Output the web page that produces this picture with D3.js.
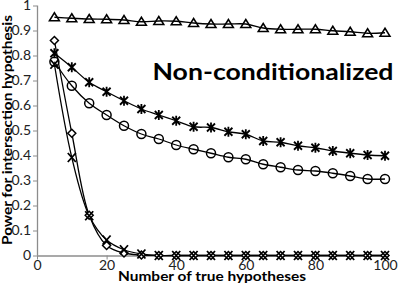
<!DOCTYPE html>
<html>
<head>
<meta charset="utf-8">
<script src="https://cdn.jsdelivr.net/npm/d3@7"></script>
<style>
  body { margin: 0; background: #fff; }
  text { font-family: Lato, "Open Sans", sans-serif; }
</style>
</head>
<body>
<div id="chart"></div>
<script>
// data
const trueHyp = [5, 10, 15, 20, 25, 30, 35, 40, 45, 50, 55, 60, 65, 70, 75, 80, 85, 90, 95, 100];
const triangleVals = [0.953, 0.949, 0.946, 0.945, 0.942, 0.935, 0.938, 0.937, 0.930, 0.926, 0.926, 0.926, 0.910, 0.905, 0.905, 0.905, 0.899, 0.895, 0.889, 0.891];
const starVals = [0.809, 0.753, 0.693, 0.655, 0.619, 0.586, 0.562, 0.539, 0.515, 0.512, 0.495, 0.485, 0.458, 0.453, 0.439, 0.431, 0.418, 0.409, 0.402, 0.399];
const circleVals = [0.775, 0.679, 0.609, 0.562, 0.519, 0.486, 0.466, 0.442, 0.425, 0.409, 0.393, 0.385, 0.365, 0.353, 0.342, 0.338, 0.329, 0.318, 0.306, 0.306];
const diamondVals = [0.860, 0.489, 0.161, 0.040, 0.010, 0.002, 0, 0, 0, 0, 0, 0, 0, 0, 0, 0, 0, 0, 0, 0];
const crossVals = [0.765, 0.392, 0.159, 0.062, 0.023, 0.006, 0, 0, 0, 0, 0, 0, 0, 0, 0, 0, 0, 0, 0, 0];

const xTicks = [0, 20, 40, 60, 80, 100];
const yTicks = [0, 0.1, 0.2, 0.3, 0.4, 0.5, 0.6, 0.7, 0.8, 0.9, 1];
const yTickLabels = ["0", "0.1", "0.2", "0.3", "0.4", "0.5", "0.6", "0.7", "0.8", "0.9", "1"];

const series = [
  {name: "triangle", values: triangleVals},
  {name: "star", values: starVals},
  {name: "circle", values: circleVals},
  {name: "diamond", values: diamondVals},
  {name: "cross", values: crossVals}
];

const W = 399, H = 286;
const margin = {top: 5.5, right: 14, bottom: 30.5, left: 37};

const svg = d3.select("#chart")
  .append("svg")
  .attr("width", W)
  .attr("height", H);

const x = d3.scaleLinear().domain([0, 100]).range([margin.left, W - margin.right]);
const y = d3.scaleLinear().domain([0, 1]).range([H - margin.bottom, margin.top]);

const axisColor = "#8c8c8c";

// y axis
const yAxis = svg.append("g")
  .attr("transform", `translate(${margin.left},0)`)
  .call(d3.axisLeft(y).tickValues(yTicks).tickSize(4).tickPadding(2)
    .tickFormat((d, i) => yTickLabels[i]));
// x axis
const xAxis = svg.append("g")
  .attr("transform", `translate(0,${y(0)})`)
  .call(d3.axisBottom(x).tickValues(xTicks).tickSize(4).tickPadding(1));

[xAxis, yAxis].forEach(g => {
  g.select(".domain").attr("stroke", axisColor).attr("stroke-width", 1.3);
  g.selectAll(".tick line").attr("stroke", axisColor);
  g.selectAll(".tick text")
    .attr("fill", "#222")
    .style("font-size", "14px")
    .style("font-family", "Lato, sans-serif");
});
// domain path has outer ticks, drop them
yAxis.select(".domain").attr("d", `M0.5,${y(1)}V${y(0)}`);
xAxis.select(".domain").attr("d", `M${margin.left},0.5H${x(100)}`);

// lines
const line = d3.line()
  .x((d, i) => x(trueHyp[i]))
  .y(d => y(d))
  .curve(d3.curveCatmullRom.alpha(0.5));

svg.append("g")
  .selectAll("path")
  .data(series)
  .join("path")
  .attr("d", d => line(d.values))
  .attr("fill", "none")
  .attr("stroke", "#000")
  .attr("stroke-width", 1.3);

// marker shapes
function markerPath(name) {
  switch (name) {
    case "triangle": return "M0,-4.5L5,3.5L-5,3.5Z";
    case "circle": return "M4.5,0A4.5,4.5,0,1,1,-4.5,0A4.5,4.5,0,1,1,4.5,0Z";
    case "diamond": return "M0,-4L4,0L0,4L-4,0Z";
    case "star": return "M-4,-4L4,4M-4,4L4,-4M0,-5V5";
    case "cross": return "M-4,-4.5L4,4.5M-4,4.5L4,-4.5";
  }
}

series.forEach(s => {
  svg.append("g")
    .selectAll("path")
    .data(s.values)
    .join("path")
    .attr("transform", (d, i) => `translate(${x(trueHyp[i])},${y(d)})`)
    .attr("d", markerPath(s.name))
    .attr("fill", s.name === "diamond" ? "#fff" : "none")
    .attr("stroke", "#000")
    .attr("stroke-width", s.name === "star" || s.name === "cross" ? 1.8 : 1.5);
});

// titles
svg.append("text")
  .attr("x", 152.5)
  .attr("y", 79.5)
  .attr("textLength", 241)
  .attr("lengthAdjust", "spacingAndGlyphs")
  .style("font-size", "23px")
  .style("font-weight", "bold")
  .text("Non-conditionalized");

svg.append("text")
  .attr("x", 212)
  .attr("y", 281)
  .attr("text-anchor", "middle")
  .attr("textLength", 188)
  .attr("lengthAdjust", "spacingAndGlyphs")
  .style("font-size", "13px")
  .style("font-weight", "bold")
  .text("Number of true hypotheses");

svg.append("text")
  .attr("transform", "translate(12,130) rotate(-90)")
  .attr("text-anchor", "middle")
  .attr("textLength", 230)
  .attr("lengthAdjust", "spacingAndGlyphs")
  .style("font-size", "13px")
  .style("font-weight", "bold")
  .text("Power for intersection hypothesis");
</script>
</body>
</html>
